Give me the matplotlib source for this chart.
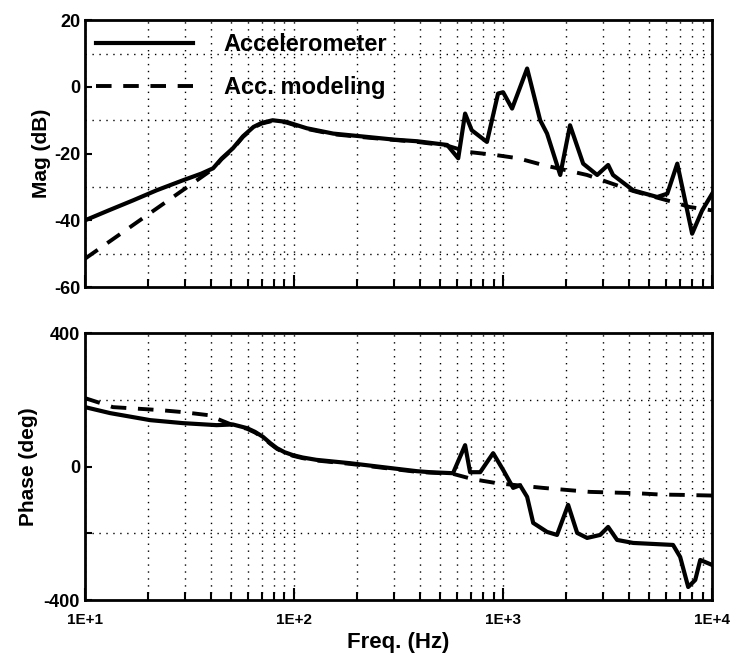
import matplotlib
matplotlib.use('Agg')
import matplotlib.pyplot as plt
from matplotlib.ticker import LogLocator, FixedLocator, NullFormatter

plt.rcParams['font.family'] = ['Liberation Sans', 'DejaVu Sans']
plt.rcParams['font.weight'] = 'bold'
plt.rcParams['axes.unicode_minus'] = False

# magnitude, accelerometer (measured)
mag_f = [10, 13, 17, 22, 29.4, 36, 41, 45, 51, 57, 64, 70, 79, 92, 115, 154, 224, 300, 389,
         540, 610, 658, 708, 837, 946, 1000, 1104, 1303, 1504, 1623, 1876, 2090, 2415, 2818,
         3180, 3355, 4190, 5460, 6100, 6810, 8020, 8960, 10000]
mag_db = [-40, -37, -34, -31, -28, -26, -24.4, -21.5, -18.4, -14.8, -12, -10.8, -10, -10.5,
          -12.4, -14, -15, -15.8, -16.3, -17.4, -21.4, -8, -13, -16.5, -2, -1.6, -6.5, 5.5,
          -10, -14, -26.4, -11.5, -23, -26.4, -23.4, -26.4, -31, -33, -32, -23, -44, -37, -32]

# magnitude, model
mod_f = [10, 41, 45, 51, 57, 64, 70, 79, 92, 115, 154, 224, 389, 540, 680, 916, 1180, 1550,
         2520, 3250, 4190, 5460, 6500, 7800, 10000]
mod_db = [-51.5, -24.6, -21.7, -18.6, -15, -12.2, -11, -10.2, -10.7, -12.6, -14.2, -15.2,
          -16.5, -17.6, -19.5, -20.4, -21.4, -23.4, -26.4, -28.8, -31.2, -33.2, -34.5, -36, -37]

# phase, accelerometer
ph_f = [10, 13.2, 20.5, 29.4, 42.6, 51, 59.6, 65, 71, 77, 82.8, 90, 98.9, 110, 128, 185, 267,
        387, 447, 576, 658, 695, 777, 896, 1000, 1117, 1205, 1303, 1393, 1623, 1811, 2047,
        2261, 2523, 2913, 3180, 3510, 4190, 6500, 7030, 7680, 8300, 8770, 10000]
ph_deg = [178, 160, 139, 130, 124, 126, 115, 104, 89, 70, 55, 43, 34, 27, 20, 10, -2,
          -14, -17, -20, 64, -17, -17, 40, -10, -64, -56, -91, -169, -196, -205, -115,
          -199, -214, -205, -181, -220, -229, -235, -271, -361, -340, -280, -295]

# phase, model
phm_f = [10, 13.6, 22.9, 29.4, 38.8, 51, 59.6, 65, 71, 77, 82.8, 90, 98.9, 110, 128, 185, 267,
         387, 576, 718, 935, 1550, 2000, 2600, 4370, 5640, 7200, 10000]
phm_deg = [205, 178, 169, 163, 154, 124, 113, 102, 87, 68, 53, 41, 32, 25, 18, 8, -4, -16,
           -22, -38, -50, -64, -70, -76, -80, -84, -85, -87]

fig = plt.figure(figsize=(7.37, 6.6), dpi=100)
ax1 = fig.add_axes([0.1153, 0.565, 0.851, 0.4045])
ax2 = fig.add_axes([0.1153, 0.0909, 0.851, 0.4045])

ax1.plot(mag_f, mag_db, color='black', lw=3, label='Accelerometer')
ax1.plot(mod_f, mod_db, color='black', lw=2.8, ls=(0, (4, 3)), label='Acc. modeling')
ax2.plot(ph_f, ph_deg, color='black', lw=3)
ax2.plot(phm_f, phm_deg, color='black', lw=2.8, ls=(0, (4, 3)))

for ax in (ax1, ax2):
    ax.set_xscale('log')
    ax.set_xlim(10, 10000)
    ax.xaxis.set_major_locator(FixedLocator([10, 100, 1000, 10000]))
    ax.xaxis.set_minor_locator(LogLocator(base=10, subs=range(2, 10)))
    ax.xaxis.set_minor_formatter(NullFormatter())
    ax.grid(True, which='both', axis='x', color='black', ls=(0, (1, 4)), lw=1)
    ax.grid(True, which='minor', axis='y', color='black', ls=(0, (1, 4)), lw=1)
    ax.tick_params(axis='x', which='major', direction='in', length=9, width=1.5,
                   top=False, labelsize=11, pad=9)
    ax.tick_params(axis='x', which='minor', direction='in', length=6, width=1.5, top=False)
    ax.tick_params(axis='y', which='both', direction='in', length=5, width=1.5,
                   right=False, labelsize=13)
    ax.tick_params(axis='y', which='minor', length=0)
    for s in ax.spines.values():
        s.set_linewidth(2)

ax1.set_ylim(-60, 20)
ax1.set_yticks([-60, -40, -20, 0, 20])
ax1.set_yticks(range(-50, 20, 10), minor=True)
ax1.xaxis.set_major_formatter(NullFormatter())
ax1.set_ylabel('Mag (dB)', fontsize=15, fontweight='bold', labelpad=2)
ax1.legend(loc='upper left', frameon=False, fontsize=17, handlelength=4.1,
           handletextpad=1.3, labelspacing=0.85, borderaxespad=0.2,
           bbox_to_anchor=(-0.005, 1.005))

ax2.set_ylim(-400, 400)
ax2.set_yticks([-400, 0, 400])
ax2.set_yticks([-200, 200], minor=True)
ax2.tick_params(axis='y', which='minor', length=5, width=1.5)
ax2.set_xticklabels(['1E+1', '1E+2', '1E+3', '1E+4'])
ax2.set_ylabel('Phase (deg)', fontsize=15, fontweight='bold', labelpad=4)
ax2.set_xlabel('Freq. (Hz)', fontsize=16, fontweight='bold', labelpad=4)

fig.savefig('out.png', dpi=100)
